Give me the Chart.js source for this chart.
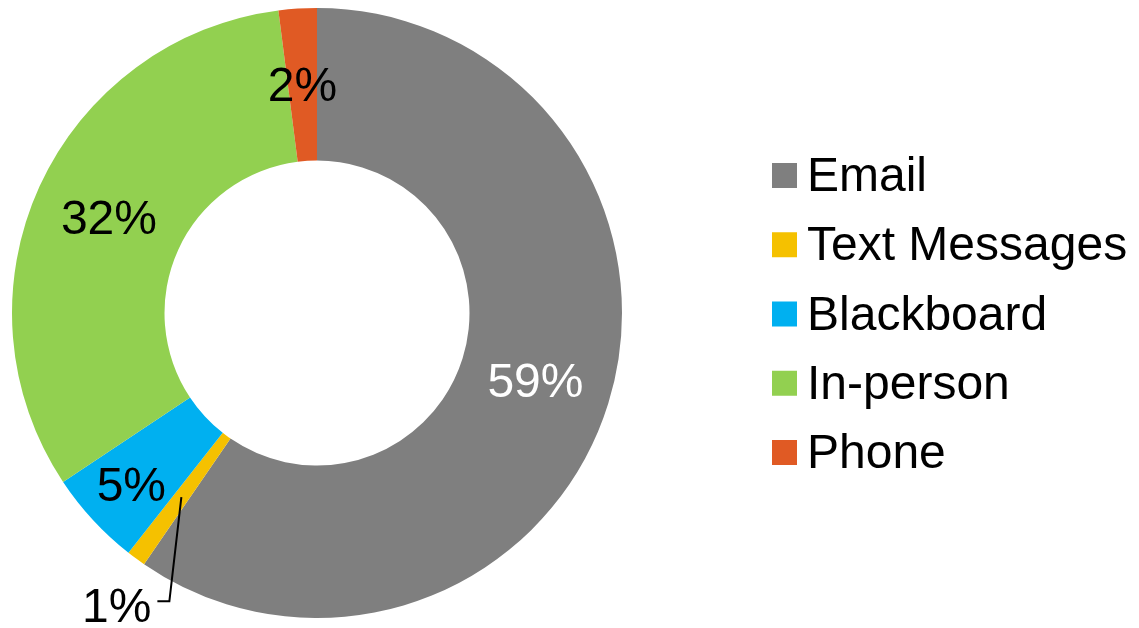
<!DOCTYPE html>
<html>
<head>
<meta charset="utf-8">
<script src="https://cdn.jsdelivr.net/npm/chart.js@4.4.1/dist/chart.umd.min.js"></script>
<style>
  html, body { margin: 0; padding: 0; background: #fff; }
  #chart { display: block; }
</style>
</head>
<body>
<canvas id="chart" width="1139" height="628"></canvas>
<script>
// Chart data
const categories = ['Email', 'Text Messages', 'Blackboard', 'In-person', 'Phone'];
const shares = [59, 1, 5, 32, 2];
const colors = ['#7f7f7f', '#f5c100', '#00b0f0', '#92d050', '#e05a24'];
const labelColors = ['#ffffff', '#000000', '#000000', '#000000', '#000000'];

const FONT = '"Liberation Sans", Arial, sans-serif';

// percentage labels in the ring, the small slice gets a leader line
const sliceLabels = {
    id: 'sliceLabels',
    afterDatasetsDraw(chart) {
        const ctx = chart.ctx;
        const arcs = chart.getDatasetMeta(0).data;
        ctx.save();
        ctx.font = '48px ' + FONT;
        arcs.forEach(function(arc, i) {
            const pos = arc.tooltipPosition();
            const text = shares[i] + '%';
            ctx.fillStyle = labelColors[i];
            if (shares[i] < 2) {
                // leader line out of the thin slice
                const ex = pos.x - 12, ey = pos.y + 104;
                ctx.strokeStyle = '#000';
                ctx.lineWidth = 2;
                ctx.beginPath();
                ctx.moveTo(pos.x, pos.y);
                ctx.lineTo(ex, ey);
                ctx.lineTo(ex - 12, ey);
                ctx.stroke();
                ctx.textAlign = 'right';
                ctx.textBaseline = 'middle';
                ctx.fillText(text, ex - 18, ey + 8);
            } else {
                // Blackboard label sits a little further out than the ring middle
                const push = categories[i] === 'Blackboard' ? 24 : 0;
                const ang = (arc.startAngle + arc.endAngle) / 2;
                const lx = pos.x + Math.cos(ang) * push;
                const ly = pos.y + Math.sin(ang) * push;
                ctx.textAlign = 'center';
                ctx.textBaseline = 'middle';
                ctx.fillText(text, lx, ly + 3);
            }
        });
        ctx.restore();
    }
};

// legend on the right
const sideLegend = {
    id: 'sideLegend',
    afterDraw(chart) {
        const ctx = chart.ctx;
        const x = 772, top = 163, box = 25, step = 69.25;
        ctx.save();
        ctx.font = '48px ' + FONT;
        ctx.textAlign = 'left';
        ctx.textBaseline = 'alphabetic';
        categories.forEach(function(name, i) {
            const y = top + i * step;
            ctx.fillStyle = colors[i];
            ctx.fillRect(x, y, box, box);
            ctx.fillStyle = '#000';
            ctx.fillText(name, x + 35, y + 28);
        });
        ctx.restore();
    }
};

new Chart(document.getElementById('chart'), {
    type: 'doughnut',
    data: {
        labels: categories,
        datasets: [{
            data: shares,
            backgroundColor: colors,
            borderWidth: 0
        }]
    },
    options: {
        responsive: false,
        animation: false,
        cutout: '50%',
        layout: {
            padding: { left: 12, right: 517, top: 8, bottom: 10 }
        },
        plugins: {
            legend: { display: false },
            tooltip: { enabled: false }
        }
    },
    plugins: [sliceLabels, sideLegend]
});
</script>
</body>
</html>
